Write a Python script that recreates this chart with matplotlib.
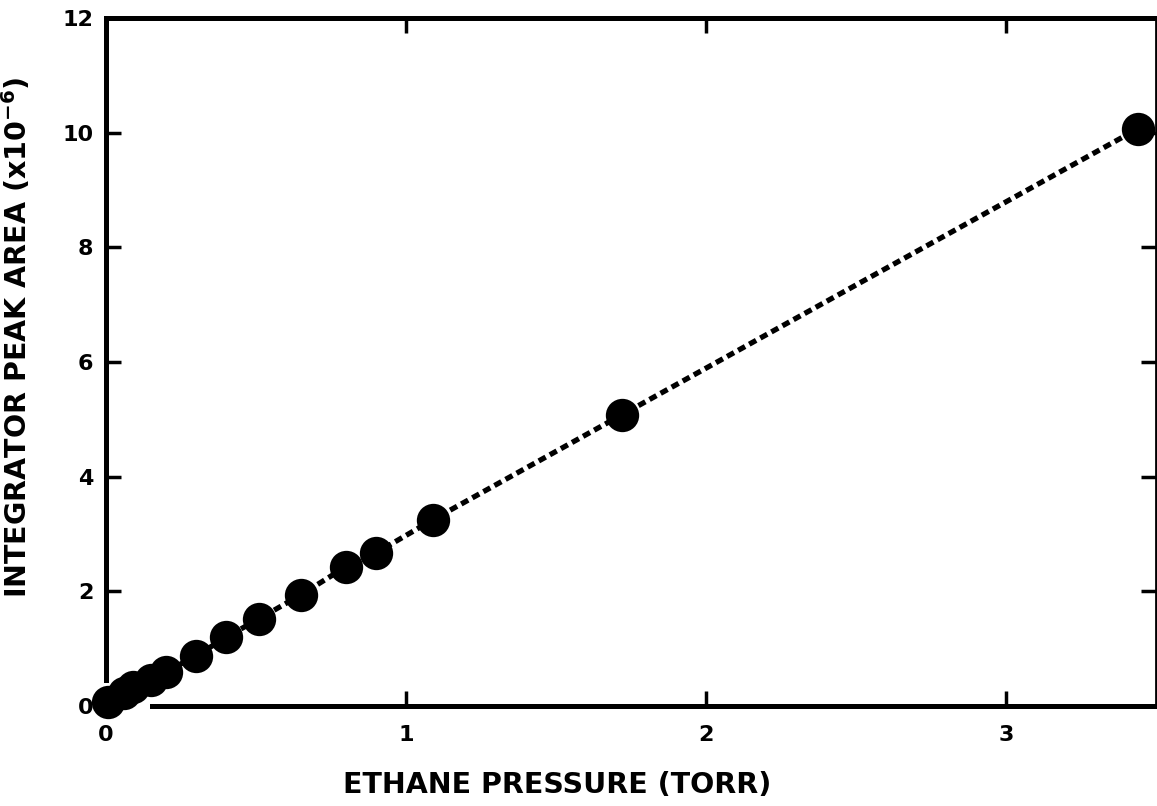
import matplotlib
matplotlib.use("Agg")
import matplotlib.pyplot as plt
import numpy as np

# data
pressure = [0.007, 0.06, 0.09, 0.15, 0.20, 0.30, 0.40, 0.51, 0.65, 0.80, 0.90, 1.09, 1.72, 3.44]
peak_area = [0.07, 0.23, 0.33, 0.45, 0.60, 0.87, 1.20, 1.52, 1.94, 2.43, 2.67, 3.25, 5.08, 10.07]

xticks = [0, 1, 2, 3]
yticks = [0, 2, 4, 6, 8, 10, 12]

plt.rcParams['font.family'] = ['DejaVu Sans']
plt.rcParams['font.weight'] = 'bold'
plt.rcParams['mathtext.fontset'] = 'dejavusans'
plt.rcParams['mathtext.default'] = 'bf'

fig = plt.figure(figsize=(11.57, 8.06), dpi=100)
ax = fig.add_axes([106 / 1157, 100 / 806, 1050 / 1157, 688 / 806])

# dotted trend line through the points, then the big black dots
ax.plot(pressure, peak_area, color='black', linewidth=3.8,
        linestyle=(0, (1.5, 0.9)), dash_capstyle='butt', clip_on=False)
ax.plot(pressure, peak_area, 'o', color='black', markersize=24,
        markeredgewidth=0, clip_on=False)

ax.set_xlim(0, 3.5)
ax.set_ylim(0, 12)

ax.set_xticks(xticks)
ax.set_yticks(yticks)
ax.tick_params(direction='in', length=11, width=2.5, labelsize=16, pad=9)
ax.tick_params(axis='x', top=True, pad=14)
ax.tick_params(axis='y', right=True)

for side in ['left', 'bottom', 'top', 'right']:
    ax.spines[side].set_linewidth(3.6)
ax.spines['right'].set_linewidth(2)
ax.spines['left'].set_bounds(0.45, 12)
ax.spines['bottom'].set_bounds(0.153, 3.5)

for lbl in ax.get_xticklabels() + ax.get_yticklabels():
    lbl.set_fontweight('bold')

ax.set_xlabel('ETHANE PRESSURE (TORR)', fontsize=20.5, fontweight='bold')
ax.xaxis.set_label_coords(0.43, -0.115)
ax.xaxis.label.set_verticalalignment('center')

ax.set_ylabel('INTEGRATOR PEAK AREA (x10$^{-6}$)', fontsize=20.5, fontweight='bold')
ax.yaxis.set_label_coords(-0.085, 0.536)
ax.yaxis.label.set_verticalalignment('center')

fig.savefig('out.png', dpi=100)
